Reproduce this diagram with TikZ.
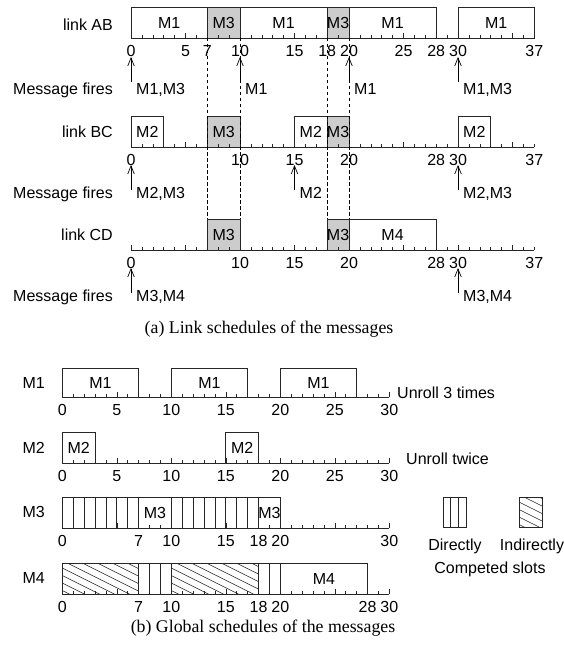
\documentclass[tikz,border=0pt]{standalone}
\usepackage{fontspec}
\setmainfont{Liberation Serif}
\setsansfont{Liberation Sans}
\usetikzlibrary{arrows.meta}
\def\U{10.9}
\def\OA{131}
\def\OB{62.3}
\newcommand\Slot[8]{%
  \draw[#2] ({#3+#6*\U},#4) rectangle ({#3+#7*\U},#5);
  \node[boxlbl] (#1) at ({#3+(#6+#7)/2*\U},{(#4+#5)/2}) {#8};}
\newcommand\Axis[4]{%
  \draw[axisline] (#2,#3) coordinate (#1s) -- ({#2+#4*\U},#3) coordinate (#1e);
  \foreach \i in {0,...,#4}{%
    \pgfmathsetmacro\h{mod(\i,5)==0 ? 5 : 3}%
    \draw[tickline] ({#2+\i*\U},#3) -- ++(0,-\h);}}
\newcommand\Ticks[4]{%
  \foreach \v in {#4}{\node[tlbl] (#1\v) at ({#2+\v*\U},{#3+12.5}) {\v};}}
\newcommand\Hatch[4]{%
  \begin{scope}
    \clip (#1,#2) rectangle (#3,#4);
    \foreach \k in {0,...,14}{\draw[hatchline] ({#1-70+\k*15},#2) -- ++(90,45);}
  \end{scope}
  \draw[slot] (#1,#2) rectangle (#3,#4);}
\begin{document}
\begin{tikzpicture}[x=1pt,y=-1pt,
  lbl/.style={font=\sffamily\fontsize{16}{18}\selectfont, inner sep=0pt, text height=11.5pt, text depth=0pt},
  boxlbl/.style={lbl},
  tlbl/.style={lbl},
  slot/.style={draw=black!85, line width=0.7pt},
  gslot/.style={slot, fill=gray!40},
  axisline/.style={draw=black!85, line width=0.8pt},
  tickline/.style={draw=black!85, line width=0.6pt},
  dashline/.style={draw=black, line width=0.6pt, dash pattern=on 3.5pt off 2.5pt},
  fire/.style={draw=black, line width=0.7pt, -{Straight Barb[length=8pt,width=6.5pt]}},
  hatchline/.style={draw=black!85, line width=0.5pt},
  caption/.style={font=\rmfamily\fontsize{17.8}{20}\selectfont, inner sep=0pt}]
\useasboundingbox (0,0) rectangle (564,650);

% ---------- (a) link AB ----------
\node[lbl, anchor=east] (labAB) at (113,25) {link AB};
\Slot{ab1}{slot}{\OA}{7}{38}{0}{7}{M1}
\Slot{ab2}{gslot}{\OA}{7}{38}{7}{10}{M3}
\Slot{ab3}{slot}{\OA}{7}{38}{10}{18}{M1}
\Slot{ab4}{gslot}{\OA}{7}{38}{18}{20}{M3}
\Slot{ab5}{slot}{\OA}{7}{38}{20}{28}{M1}
\Slot{ab6}{slot}{\OA}{7}{38}{30}{37}{M1}
\Axis{axAB}{\OA}{38}{37}
\Ticks{tAB}{\OA}{38}{0,5,7,10,15,18,20,25,28,30,37}

% ---------- (a) link BC ----------
\node[lbl, anchor=east] (labBC) at (113,132) {link BC};
\Slot{bc1}{slot}{\OA}{116}{147}{0}{3}{M2}
\Slot{bc2}{gslot}{\OA}{116}{147}{7}{10}{M3}
\Slot{bc3}{slot}{\OA}{116}{147}{15}{18}{M2}
\Slot{bc4}{gslot}{\OA}{116}{147}{18}{20}{M3}
\Slot{bc5}{slot}{\OA}{116}{147}{30}{33}{M2}
\Axis{axBC}{\OA}{147}{37}
\Ticks{tBC}{\OA}{147}{0,10,15,20,28,30,37}

% ---------- (a) link CD ----------
\node[lbl, anchor=east] (labCD) at (113,235) {link CD};
\Slot{cd1}{gslot}{\OA}{219}{250}{7}{10}{M3}
\Slot{cd2}{gslot}{\OA}{219}{250}{18}{20}{M3}
\Slot{cd3}{slot}{\OA}{219}{250}{20}{28}{M4}
\Axis{axCD}{\OA}{250}{37}
\Ticks{tCD}{\OA}{250}{0,10,15,20,28,30,37}

% dashed guides
\foreach \t in {7,10,18,20}{%
  \coordinate (dtop\t) at ({\OA+\t*\U},38);
  \coordinate (dbot\t) at ({\OA+\t*\U},219);
  \draw[dashline] (dtop\t) -- (dbot\t);}

% message fires
\node[lbl, anchor=east] (mfAB) at (113,89) {Message fires};
\node[lbl, anchor=east] (mfBC) at (113,193) {Message fires};
\node[lbl, anchor=east] (mfCD) at (113,296) {Message fires};
\foreach \t/\txt [count=\n] in {0/{M1,M3},10/M1,20/M1,30/{M1,M3}}{%
  \coordinate (fa\n t) at ({\OA+\t*\U},82);
  \coordinate (fa\n h) at ({\OA+\t*\U},57);
  \draw[fire] (fa\n t) -- (fa\n h);
  \node[lbl, anchor=west] (fan\n) at ({\OA+\t*\U+5},89) {\txt};}
\foreach \t/\txt [count=\n] in {0/{M2,M3},15/M2,30/{M2,M3}}{%
  \coordinate (fb\n t) at ({\OA+\t*\U},190);
  \coordinate (fb\n h) at ({\OA+\t*\U},165);
  \draw[fire] (fb\n t) -- (fb\n h);
  \node[lbl, anchor=west] (fbn\n) at ({\OA+\t*\U+5},193) {\txt};}
\foreach \t/\txt [count=\n] in {0/{M3,M4},30/{M3,M4}}{%
  \coordinate (fc\n t) at ({\OA+\t*\U},293);
  \coordinate (fc\n h) at ({\OA+\t*\U},268);
  \draw[fire] (fc\n t) -- (fc\n h);
  \node[lbl, anchor=west] (fcn\n) at ({\OA+\t*\U+5},296) {\txt};}

\node[caption] (capA) at (269,329) {(a) Link schedules of the messages};

% ---------- (b) M1 ----------
\node[lbl, anchor=east] (rM1) at (45,383) {M1};
\Slot{g11}{slot}{\OB}{368}{397}{0}{7}{M1}
\Slot{g12}{slot}{\OB}{368}{397}{10}{17}{M1}
\Slot{g13}{slot}{\OB}{368}{397}{20}{27}{M1}
\Axis{axM1}{\OB}{397}{30}
\Ticks{tM1}{\OB}{397}{0,5,10,15,20,25,30}
\node[lbl, anchor=west] (un3) at (397,393) {Unroll 3 times};

% ---------- (b) M2 ----------
\node[lbl, anchor=east] (rM2) at (45,448) {M2};
\Slot{g21}{slot}{\OB}{432}{463}{0}{3}{M2}
\Slot{g22}{slot}{\OB}{432}{463}{15}{18}{M2}
\Axis{axM2}{\OB}{463}{30}
\Ticks{tM2}{\OB}{463}{0,5,10,15,20,25,30}
\node[lbl, anchor=west] (un2) at (406,459) {Unroll twice};

% ---------- (b) M3 ----------
\node[lbl, anchor=east] (rM3) at (45,512) {M3};
\foreach \a in {0,...,6,10,11,...,17}{%
  \draw[slot] ({\OB+\a*\U},497) rectangle ({\OB+(\a+1)*\U},528);}
\Slot{g31}{slot}{\OB}{497}{528}{7}{10}{M3}
\Slot{g32}{slot}{\OB}{497}{528}{18}{20}{M3}
\Axis{axM3}{\OB}{528}{30}
\Ticks{tM3}{\OB}{528}{0,7,10,15,18,20,30}

% ---------- (b) M4 ----------
\node[lbl, anchor=east] (rM4) at (45,578) {M4};
\Hatch{\OB}{563}{\OB+7*\U}{594}
\Hatch{\OB+10*\U}{563}{\OB+18*\U}{594}
\foreach \a in {7,8,9,18,19}{%
  \draw[slot] ({\OB+\a*\U},563) rectangle ({\OB+(\a+1)*\U},594);}
\Slot{g41}{slot}{\OB}{563}{594}{20}{28}{M4}
\Axis{axM4}{\OB}{594}{30}
\Ticks{tM4}{\OB}{594}{0,7,10,15,18,20,28,30}

% ---------- legend ----------
\draw[slot] (443,497) rectangle (466,527);
\draw[slot] (450.7,497) -- (450.7,527);
\draw[slot] (458.3,497) -- (458.3,527);
\Hatch{519}{497}{542}{527}
\node[lbl] (lgD) at (455,545) {Directly};
\node[lbl] (lgI) at (532,545) {Indirectly};
\node[lbl] (lgC) at (490,568) {Competed slots};

\node[caption] (capB) at (263,628) {(b) Global schedules of the messages};
\end{tikzpicture}
\end{document}
